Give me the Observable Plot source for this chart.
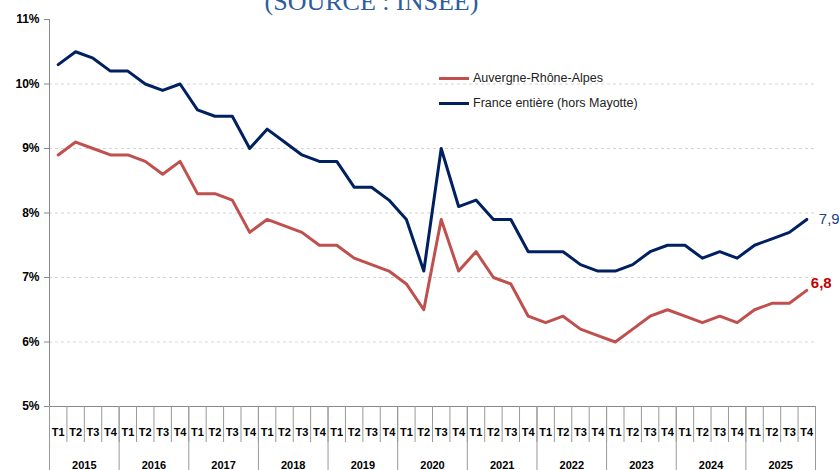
<!DOCTYPE html>
<html>
<head>
<meta charset="utf-8">
<script src="https://cdn.jsdelivr.net/npm/d3@7"></script>
<script src="https://cdn.jsdelivr.net/npm/@observablehq/plot@0.6"></script>
<style>
  body { margin: 0; background: white; }
  #wrap { position: relative; width: 839px; height: 470px; overflow: hidden; }
  .leg { position: absolute; left: 439px; font: 12.5px "Liberation Sans", Arial, sans-serif; color: #222; display: flex; align-items: center; white-space: nowrap; }
  .leg span.sw { display: inline-block; width: 30px; height: 3px; margin-right: 4px; }
</style>
</head>
<body>
<div id="wrap">
  <div id="chart"></div>
  <div class="leg" style="top:71px"><span class="sw" style="background:#C0504D"></span>Auvergne-Rhône-Alpes</div>
  <div class="leg" style="top:96px"><span class="sw" style="background:#002060"></span>France entière (hors Mayotte)</div>
</div>
<script>
const quarters = ["T1", "T2", "T3", "T4"];
const years = ["2015", "2016", "2017", "2018", "2019", "2020", "2021", "2022", "2023", "2024", "2025"];
const yTicks = [5, 6, 7, 8, 9, 10, 11];
const title = "(SOURCE : INSEE)";

const auvergne = [
  8.9, 9.1, 9.0, 8.9,
  8.9, 8.8, 8.6, 8.8,
  8.3, 8.3, 8.2, 7.7,
  7.9, 7.8, 7.7, 7.5,
  7.5, 7.3, 7.2, 7.1,
  6.9, 6.5, 7.9, 7.1,
  7.4, 7.0, 6.9, 6.4,
  6.3, 6.4, 6.2, 6.1,
  6.0, 6.2, 6.4, 6.5,
  6.4, 6.3, 6.4, 6.3,
  6.5, 6.6, 6.6, 6.8
];
const france = [
  10.3, 10.5, 10.4, 10.2,
  10.2, 10.0, 9.9, 10.0,
  9.6, 9.5, 9.5, 9.0,
  9.3, 9.1, 8.9, 8.8,
  8.8, 8.4, 8.4, 8.2,
  7.9, 7.1, 9.0, 8.1,
  8.2, 7.9, 7.9, 7.4,
  7.4, 7.4, 7.2, 7.1,
  7.1, 7.2, 7.4, 7.5,
  7.5, 7.3, 7.4, 7.3,
  7.5, 7.6, 7.7, 7.9
];

const auvData = auvergne.map((v, i) => ({i, v}));
const frData = france.map((v, i) => ({i, v}));
const n = auvergne.length;
const fmt = v => v.toFixed(1).replace(".", ",");

const chart = Plot.plot({
  width: 839,
  height: 470,
  marginTop: 19,
  marginBottom: 64,
  marginLeft: 49,
  marginRight: 24,
  x: {type: "linear", domain: [-0.5, n - 0.5], axis: null},
  y: {domain: [5, 11], axis: null},
  style: {fontFamily: "'Liberation Sans', Arial, sans-serif", background: "white", color: "#000"},
  marks: [
    Plot.gridY({ticks: [6, 7, 8, 9, 10], stroke: "#d4d4d4", strokeOpacity: 1, strokeDasharray: "3,3"}),
    Plot.axisY({ticks: yTicks, label: null, tickFormat: d => d + "%", tickSize: 5, tickPadding: 5, fontWeight: "bold", fontSize: 12, stroke: "#888"}),
    Plot.ruleX([-0.5], {stroke: "#888"}),
    Plot.ruleY([5], {stroke: "#888"}),
    Plot.axisX({ticks: d3.range(n + 1).map(i => i - 0.5), label: null, tickSize: 36, tickFormat: () => "", stroke: "#999"}),
    Plot.axisX({ticks: d3.range(0, n + 1, 4).map(i => i - 0.5), label: null, tickSize: 64, tickFormat: () => "", stroke: "#999"}),
    Plot.axisX({ticks: d3.range(n), label: null, tickSize: 0, tickPadding: 22, tickFormat: i => quarters[i % 4], fontWeight: "bold", fontSize: 11}),
    Plot.axisX({ticks: years.map((y, k) => 4 * k + 1.5), label: null, tickSize: 0, tickPadding: 55, tickFormat: t => years[Math.round((t - 1.5) / 4)], fontWeight: "bold", fontSize: 11}),
    Plot.line(auvData, {x: "i", y: "v", stroke: "#C0504D", strokeWidth: 3}),
    Plot.line(frData, {x: "i", y: "v", stroke: "#002060", strokeWidth: 3}),
    Plot.text([frData[n - 1]], {x: "i", y: "v", text: d => fmt(d.v), textAnchor: "start", dx: 12, fill: "#1F3F7F", fontSize: 15}),
    Plot.text([auvData[n - 1]], {x: "i", y: "v", text: d => fmt(d.v), textAnchor: "start", dx: 4, dy: -7, fill: "#C00000", fontSize: 15, fontWeight: "bold"}),
    Plot.text([title], {frameAnchor: "top", dx: -61, dy: -10, lineAnchor: "bottom", fontFamily: "'Liberation Serif', 'Times New Roman', serif", fontSize: 26, fill: "#2E5C9E"})
  ]
});
document.getElementById("chart").appendChild(chart);
</script>
</body>
</html>
